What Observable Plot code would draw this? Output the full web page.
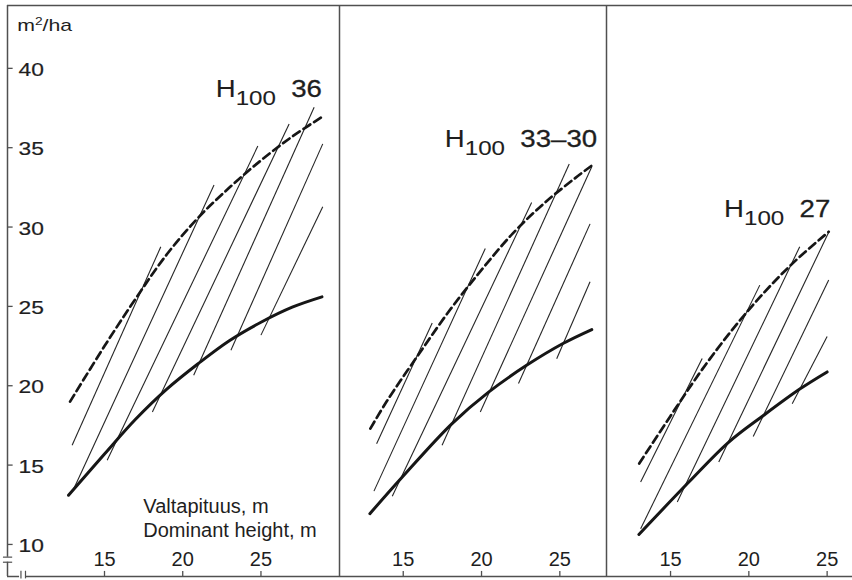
<!DOCTYPE html>
<html>
<head>
<meta charset="utf-8">
<script src="https://cdn.jsdelivr.net/npm/d3@7"></script>
<script src="https://cdn.jsdelivr.net/npm/@observablehq/plot@0.6"></script>
<style>
html, body { margin: 0; padding: 0; background: #fff; }
#chart { position: relative; width: 852px; height: 580px; overflow: hidden; background: #fff; }
#chart svg { position: absolute; top: 0; overflow: visible; }
</style>
</head>
<body>
<div id="chart"></div>
<script>
// ---- data ----
const panelLabels = ["36", "33\u201330", "27"];
const xTicks = [15, 20, 25];
const yTicks = [10, 15, 20, 25, 30, 35, 40];
const unitLabel = "m2/ha";
const xTitle = "Valtapituus, m\nDominant height, m";

// upper dashed curves [dominant height, basal area]
const dashed1 = [[12.8,19.0],[15,22.5],[17,25.5],[19,28.3],[21,30.6],[23,32.5],[25,34.2],[27,35.7],[29,37.0]];
const dashed2 = [[12.9,17.3],[14,19.1],[16,22.0],[18,24.8],[20,27.3],[22,29.6],[24,31.5],[26,33.1],[27.04,33.87]];
const dashed3 = [[13.0,15.1],[15,18.1],[17,21.0],[19,23.6],[21,25.9],[23,27.9],[25.1,29.7]];

// lower thick solid curves
const solid1 = [[12.7,13.1],[15,15.7],[17,17.9],[19,19.8],[21,21.4],[23,22.85],[25,24.0],[27,24.95],[28.9,25.6]];
const solid2 = [[12.87,11.94],[14.94,14.25],[18.1,17.6],[20.45,19.6],[22.9,21.3],[25.2,22.66],[27.04,23.54]];
const solid3 = [[12.98,10.63],[16.17,13.93],[18.72,16.45],[20.95,18.14],[23.3,19.82],[25.0,20.87]];

// thin development lines [x start, y start, x end, y end]
const thin1 = [[12.93,16.25,18.6,28.76],[13.03,13.5,22.0,32.65],[15.17,15.3,24.8,35.1],[18.06,18.35,26.8,36.5],[20.7,20.66,28.4,37.55],[23.08,22.24,28.95,35.24],[25.0,23.19,28.95,31.28]];
const thin2 = [[13.3,16.35,16.85,23.96],[13.13,13.36,20.24,28.65],[14.3,13.03,23.2,31.55],[17.48,16.25,25.6,33.97],[19.92,18.35,27.04,33.8],[22.36,20.14,26.93,30.2],[24.8,21.7,26.93,26.55]];
const thin3 = [[13.09,13.93,17.02,21.72],[13.09,10.99,20.7,26.34],[15.43,12.67,23.25,28.76],[18.08,15.2,25.1,29.67],[20.28,16.8,25.1,26.66],[22.77,18.87,25.0,23.1]];

// ---- layout ----
const ns = "http://www.w3.org/2000/svg";
const yDomain = [7.98, 43.96];
const [yBottom, yTop] = yDomain;
const ink = "#161616";
const frameInk = "#505050";
const textInk = "#1e1e1e";
const font = "'Liberation Sans', Arial, Helvetica, sans-serif";

const panels = [
  {left: 0,   width: 339, marginLeft: 7, xDomain: [8.8, 30.02],  label: {x: 28.9, y: 38.67}, dashed: dashed1, solid: solid1, thin: thin1},
  {left: 339, width: 267, marginLeft: 0, xDomain: [10.93, 27.98], label: {x: 27.38, y: 35.52}, dashed: dashed2, solid: solid2, thin: thin2},
  {left: 606, width: 246, marginLeft: 0, xDomain: [10.91, 26.62], label: {x: 25.2, y: 31.11}, dashed: dashed3, solid: solid3, thin: thin3}
];

// horizontal stretch of the print's typeface, per font size used
const stretchBySize = {"19": 1.2, "17": 1.25, "24": 1.15};
const strokeBySize = {"19": 0.2, "24": 0.3};

// replace the content of text elements whose text equals `match` with styled tspans
function richText(svg, match, parts) {
  Array.from(svg.querySelectorAll("text"))
    .filter(t => t.textContent === match)
    .forEach(t => {
      t.textContent = "";
      parts(match).forEach(([s, attrs]) => {
        const ts = document.createElementNS(ns, "tspan");
        ts.textContent = s;
        for (const k in attrs) ts.setAttribute(k, attrs[k]);
        t.appendChild(ts);
      });
    });
}

function styleTexts(svg) {
  svg.querySelectorAll("text").forEach(t => {
    const g = t.closest("g");
    const fs = t.getAttribute("font-size") || (g && g.getAttribute("font-size"));
    const tr = t.getAttribute("transform");
    const s = stretchBySize[fs];
    if (s && tr && tr.includes("translate")) t.setAttribute("transform", tr + ` scale(${s},1)`);
    const sw = strokeBySize[fs];
    if (sw) { t.setAttribute("stroke", textInk); t.setAttribute("stroke-width", sw); }
  });
}

const chart = document.getElementById("chart");

panels.forEach((P, i) => {
  const [x0, x1] = P.xDomain;
  const marks = [];
  const fr = {stroke: frameInk, strokeWidth: 1.5};

  // frame
  marks.push(Plot.ruleY([yTop], fr));
  if (i === 0) {
    marks.push(Plot.ruleX([x0], {y1: 9.2, y2: yTop, ...fr}));
    marks.push(Plot.ruleX([x0], {y1: yBottom, y2: 8.88, ...fr}));
    marks.push(Plot.ruleY([9.2, 8.88], {x1: x0 - 0.26, x2: x0 + 0.33, stroke: frameInk, strokeWidth: 1.2}));
    marks.push(Plot.ruleY([yBottom], {x1: x0, x2: 9.57, ...fr}));
    marks.push(Plot.ruleY([yBottom], {x1: 9.95, x2: x1, ...fr}));
    marks.push(Plot.ruleX([9.66, 9.95], {y1: yBottom - 0.15, y2: yBottom + 0.33, stroke: frameInk, strokeWidth: 1.2}));
    // y ticks (inward) and labels
    marks.push(Plot.ruleY(yTicks, {x1: x0, x2: x0 + 0.36, stroke: frameInk, strokeWidth: 1.3}));
    marks.push(Plot.text(yTicks, {x: x0, y: d => d, text: d => String(d), dx: 11, dy: 1.5,
      textAnchor: "start", lineAnchor: "middle", fontSize: 19, fill: textInk}));
    // unit
    marks.push(Plot.text([unitLabel], {frameAnchor: "top-left", text: d => d, dx: 9.7, dy: 19.6,
      textAnchor: "start", lineAnchor: "middle", fontSize: 17, fill: textInk}));
    // x axis title
    marks.push(Plot.text([xTitle], {x: 17.48, y: 13.03, text: d => d, textAnchor: "start",
      lineAnchor: "top", lineHeight: 1.2, fontSize: 20, fill: textInk}));
  } else {
    marks.push(Plot.ruleX([x0], {y1: yBottom, y2: yTop, ...fr}));
    marks.push(Plot.ruleY([yBottom], fr));
  }

  // x ticks (inward) and labels
  marks.push(Plot.ruleX(xTicks, {y1: yBottom, y2: yBottom + 0.32, stroke: frameInk, strokeWidth: 1.3}));
  marks.push(Plot.text(xTicks, {x: d => d, y: yBottom, text: d => String(d), dy: -17.4,
    textAnchor: "middle", lineAnchor: "middle", fontSize: 20, fill: textInk}));

  // thin lines
  marks.push(Plot.link(P.thin, {x1: d => d[0], y1: d => d[1], x2: d => d[2], y2: d => d[3],
    stroke: "#262626", strokeWidth: 1.1}));
  // thick solid curve
  marks.push(Plot.line(P.solid, {x: d => d[0], y: d => d[1], curve: "catmull-rom",
    stroke: ink, strokeWidth: 3}));
  // dashed curve
  marks.push(Plot.line(P.dashed, {x: d => d[0], y: d => d[1], curve: "catmull-rom",
    stroke: ink, strokeWidth: 2.7, strokeDasharray: "8,4.5"}));

  // H100 label
  marks.push(Plot.text([panelLabels[i]], {x: P.label.x, y: P.label.y, text: d => d,
    textAnchor: "end", lineAnchor: "middle", fontSize: 24, fill: textInk}));

  const svg = Plot.plot({
    width: P.width,
    height: 580,
    marginLeft: P.marginLeft,
    marginRight: 0,
    marginTop: 5,
    marginBottom: 4,
    x: {domain: P.xDomain, axis: null},
    y: {domain: yDomain, axis: null},
    style: {fontFamily: font, background: "transparent", overflow: "visible"},
    marks
  });
  svg.style.left = P.left + "px";

  richText(svg, panelLabels[i], txt => [
    ["H", {"stroke-width": 0.1}],
    ["100", {dy: 7.6, "font-size": 21, "stroke-width": 0.1}],
    ["\u00a0\u00a0" + txt, {dy: -7.6}]
  ]);
  richText(svg, unitLabel, txt => [
    ["m", {}],
    ["2", {dy: -6, "font-size": 11}],
    ["/ha", {dy: 6}]
  ]);
  styleTexts(svg);

  chart.appendChild(svg);
});
</script>
</body>
</html>
